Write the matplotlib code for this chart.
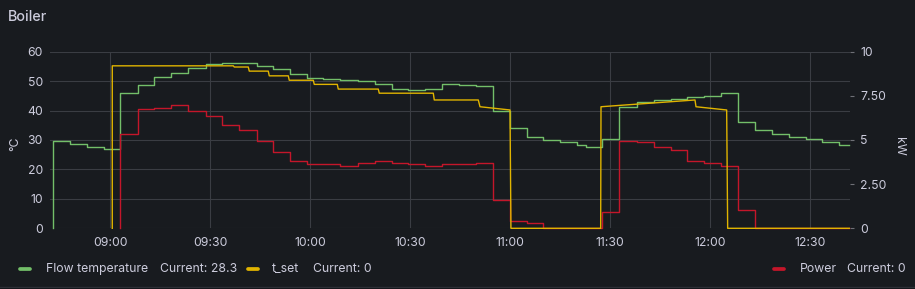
import pandas as pd
import matplotlib
matplotlib.use("Agg")
import matplotlib.pyplot as plt
import matplotlib.dates as mdates
from matplotlib.lines import Line2D
from matplotlib.patches import Rectangle

# values (left axis degC, right axis kW)
FLOW_TIMES = ["08:42:43", "08:42:43", "08:47:55", "08:52:55", "08:58:07", "09:03:00",
              "09:08:10", "09:13:12", "09:18:13", "09:23:24", "09:28:37", "09:33:36",
              "09:38:37", "09:43:55", "09:48:54", "09:53:55", "09:58:55", "10:03:54",
              "10:08:55", "10:14:13", "10:19:25", "10:24:25", "10:29:24", "10:34:25",
              "10:39:36", "10:44:37", "10:49:37", "10:54:43", "10:59:55", "11:04:55",
              "11:09:54", "11:14:55", "11:19:55", "11:22:34", "11:27:25", "11:32:42",
              "11:37:55", "11:43:07", "11:48:07", "11:53:06", "11:58:07", "12:03:07",
              "12:08:24", "12:13:25", "12:18:25", "12:23:37", "12:28:37", "12:33:36",
              "12:38:37", "12:41:42"]
FLOW_TEMP = [0, 29.5, 28.6, 27.7, 26.9, 46.0, 48.6, 51.4, 52.8, 54.3, 55.7, 56.0,
             56.1, 55.1, 54.0, 52.4, 51.2, 50.8, 50.5, 50.2, 49.0, 47.3, 47.0, 47.3,
             48.9, 48.8, 48.5, 39.9, 34.0, 31.1, 30.0, 29.2, 28.4, 27.7, 30.3, 41.3,
             43.0, 43.6, 44.0, 44.5, 45.1, 46.1, 36.0, 33.3, 32.1, 31.0, 30.2, 29.4,
             28.3, 28.3]

TSET_TIMES = ["09:00:36", "09:00:36", "09:36:54", "09:37:12", "09:41:24", "09:41:42",
              "09:47:24", "09:47:42", "09:53:24", "09:53:42", "10:00:54", "10:01:12",
              "10:08:06", "10:08:24", "10:20:24", "10:20:42", "10:36:54", "10:37:12",
              "10:50:24", "10:50:55", "10:59:55", "11:00:12", "11:27:07", "11:27:13",
              "11:55:25", "11:55:43", "12:04:55", "12:05:13", "12:41:42"]
TSET = [0, 55.2, 55.2, 54.8, 54.8, 53.4, 53.4, 51.8, 51.8, 50.3, 50.3, 48.9,
        48.9, 47.3, 47.3, 45.9, 45.9, 43.6, 43.6, 41.3, 40.2, 0, 0, 41.3,
        43.6, 41.3, 40.2, 0, 0]

POWER_TIMES = ["09:03:00", "09:03:00", "09:08:10", "09:13:12", "09:18:13", "09:23:24",
               "09:28:37", "09:33:36", "09:38:37", "09:43:55", "09:48:54", "09:53:55",
               "09:58:55", "10:08:55", "10:14:13", "10:19:25", "10:24:25", "10:29:24",
               "10:34:25", "10:39:36", "10:49:37", "10:54:43", "10:59:55", "11:04:55",
               "11:09:54", "11:27:25", "11:32:42", "11:37:55", "11:43:07", "11:48:07",
               "11:53:06", "11:58:07", "12:03:07", "12:08:24", "12:13:25", "12:41:42"]
POWER_KW = [0, 5.34, 6.74, 6.83, 6.96, 6.64, 6.34, 5.83, 5.57, 4.94, 4.34, 3.83,
            3.62, 3.53, 3.71, 3.83, 3.71, 3.62, 3.53, 3.62, 3.71, 1.60, 0.41, 0.32,
            0, 0.91, 4.94, 4.87, 4.62, 4.43, 3.83, 3.71, 3.53, 1.04, 0, 0]

LEFT_TICKS = [0, 10, 20, 30, 40, 50, 60]
RIGHT_TICKS = [0, 2.5, 5, 7.5, 10]
RIGHT_TICK_LABELS = ["0", "2.50", "5", "7.50", "10"]
X_RANGE = ("08:41:55", "12:41:46")

GREEN = "#73bf69"
YELLOW = "#e0b400"
RED = "#c4162a"
BG = "#181b1f"
TEXT = "#ccccdc"
GRID = "#3a3d43"
W, H = 915, 289


def ts(values):
    return pd.to_datetime(["2024-01-01 " + v for v in values])


plt.rcParams["font.family"] = ["Inter", "DejaVu Sans"]

fig = plt.figure(figsize=(W / 100, H / 100), dpi=100, facecolor="#111217")
fig.patches.append(Rectangle((-0.01, 2.5 / H), 1.02, 1, transform=fig.transFigure,
                             facecolor=BG, edgecolor="#2c2f35", linewidth=1, zorder=-1))


def px(x, y):
    return x / W, 1 - y / H


ax = fig.add_axes([50 / W, 1 - 228.3 / H, 799.5 / W, 176.6 / H])
ax.set_facecolor("none")
ax2 = ax.twinx()

ax.set_xlim(ts(X_RANGE))
ax.set_ylim(0, 60)
ax2.set_ylim(0, 10)

ax.plot(ts(FLOW_TIMES), FLOW_TEMP, drawstyle="steps-post", color=GREEN, lw=1.0, clip_on=False)
ax2.plot(ts(POWER_TIMES), POWER_KW, drawstyle="steps-post", color=RED, lw=1.0,
         clip_on=False, zorder=2)
# t_set uses the degC scale but sits above the power trace (as in the panel)
ax2.plot(ts(TSET_TIMES), TSET, color=YELLOW, lw=1.0, clip_on=False, zorder=3,
         transform=ax.transData)

ax.set_yticks(LEFT_TICKS)
ax2.set_yticks(RIGHT_TICKS)
ax2.set_yticklabels(RIGHT_TICK_LABELS)

ax.xaxis.set_major_locator(mdates.MinuteLocator(byminute=[0, 30]))
ax.xaxis.set_major_formatter(mdates.DateFormatter("%H:%M"))

for a in (ax, ax2):
    for s in a.spines.values():
        s.set_visible(False)

ax.grid(True, color=GRID, linewidth=0.8)
ax.tick_params(axis="both", length=0, colors=TEXT, labelsize=8.8)
ax.tick_params(axis="y", pad=5)
ax.tick_params(axis="x", pad=6)
ax2.tick_params(axis="y", length=3.2, width=0.8, colors=TEXT, labelsize=8.8, pad=4.5)
ax2.tick_params(axis="y", color="#6e7076")

fig.text(*px(8, 17), "Boiler", color=TEXT, fontsize=10.3, fontweight="medium", va="center")
fig.text(*px(15, 144), "°C", color=TEXT, fontsize=8.8, rotation=90, ha="center", va="center")
fig.text(*px(899, 146), "kW", color=TEXT, fontsize=8.8, rotation=270, ha="center", va="center")

# legend, laid out like Grafana's bottom legend
base_y = 271.7
for x0, color in [(20, GREEN), (248, YELLOW), (774, RED)]:
    fig.add_artist(Line2D([x0 / W, (x0 + 10) / W], [1 - 269 / H] * 2, transform=fig.transFigure,
                          color=color, lw=2.7, solid_capstyle="round"))
legend_texts = [
    (45.7, "Flow temperature", "left"),
    (159.7, f"Current: {FLOW_TEMP[-1]:g}", "left"),
    (272, "t_set", "left"),
    (313, f"Current: {TSET[-1]:g}", "left"),
    (800, "Power", "left"),
    (906, f"Current: {POWER_KW[-1]:g}", "right"),
]
for x0, label, ha in legend_texts:
    fig.text(*px(x0, base_y), label, color=TEXT, fontsize=8.8, ha=ha, va="baseline")

fig.savefig("out.png", dpi=100, facecolor=fig.get_facecolor())
